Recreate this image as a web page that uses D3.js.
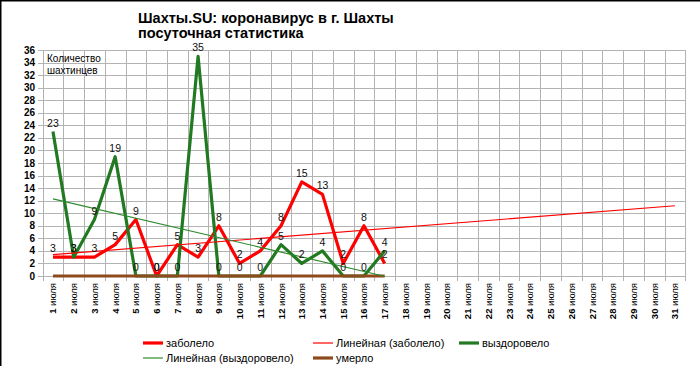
<!DOCTYPE html>
<html>
<head>
<meta charset="utf-8">
<script src="https://cdn.jsdelivr.net/npm/d3@7"></script>
<style>
  body { margin: 0; background: #fff; }
  svg { font-family: "Liberation Sans", Arial, sans-serif; }
</style>
</head>
<body>
<script>
const W = 700, H = 366;

// days of July shown on the axis
const days = d3.range(1, 32);
const dayWord = "июля";

// daily values (1..17 July)
const sick = [3, 3, 3, 5, 9, 0, 5, 3, 8, 2, 4, 8, 15, 13, 2, 8, 2];
const recovered = [23, 3, 9, 19, 0, 0, 0, 35, 0, 0, 0, 5, 2, 4, 0, 0, 4];
const died = [0, 0, 0, 0, 0, 0, 0, 0, 0, 0, 0, 0, 0, 0, 0, 0, 0];

const yTicks = d3.range(0, 37, 2);

const titleLines = ["Шахты.SU: коронавирус в г. Шахты", "посуточная статистика"];
const yTitle = ["Количество", "шахтинцев"];

const red = "#ff0000", green = "#217a21", brown = "#8e4a1c", grid = "#b3b3b3";

const svg = d3.select("body").append("svg")
  .attr("width", W).attr("height", H);

svg.append("rect").attr("x", 0.75).attr("y", 0.75)
  .attr("width", W + 10).attr("height", H + 10)
  .attr("fill", "#fff").attr("stroke", "#000").attr("stroke-width", 1.5);

const x = d3.scaleBand().domain(days).range([42.6, 685.3]).padding(0);
const xc = d => x(d) + x.bandwidth() / 2;
const y = d3.scaleLinear().domain([0, 36]).range([276, 50]);

// horizontal gridlines + y labels
const gy = svg.append("g");
gy.selectAll("line").data(yTicks).enter().append("line")
  .attr("x1", 38).attr("x2", x.range()[1])
  .attr("y1", d => Math.round(y(d)) + 0.5).attr("y2", d => Math.round(y(d)) + 0.5)
  .attr("stroke", grid).attr("stroke-width", 1);
gy.selectAll("text").data(yTicks).enter().append("text")
  .attr("x", 35).attr("y", d => y(d) + 3.5)
  .attr("text-anchor", "end").attr("font-size", 10).attr("font-weight", "bold")
  .text(d => d);

// vertical gridlines at category boundaries
const bounds = days.map(d => x(d)).concat([x.range()[1]]);
svg.append("g").selectAll("line").data(bounds).enter().append("line")
  .attr("x1", d => Math.round(d) + 0.5).attr("x2", d => Math.round(d) + 0.5)
  .attr("y1", y(36)).attr("y2", y(0) + 5)
  .attr("stroke", grid).attr("stroke-width", 1);

// x labels
svg.append("g").selectAll("text").data(days).enter().append("text")
  .attr("transform", d => `translate(${xc(d) + 3.5},283) rotate(-90)`)
  .attr("text-anchor", "end").attr("font-size", 9.5)
  .each(function (d) {
    const t = d3.select(this);
    t.append("tspan").attr("font-weight", "bold").text(d);
    t.append("tspan").text(" " + dayWord);
  });

// titles
svg.append("g").selectAll("text").data(titleLines).enter().append("text")
  .attr("x", 138).attr("y", (d, i) => 23 + i * 15)
  .attr("font-size", 14.5).attr("font-weight", "bold").text(d => d);
svg.append("g").selectAll("text").data(yTitle).enter().append("text")
  .attr("x", 47).attr("y", (d, i) => 62 + i * 12)
  .attr("font-size", 10).text(d => d);

// linear trend from the series
function trend(vals) {
  const xs = vals.map((v, i) => i + 1);
  const mx = d3.mean(xs), my = d3.mean(vals);
  const sxy = d3.sum(xs, (xv, i) => (xv - mx) * (vals[i] - my));
  const sxx = d3.sum(xs, xv => (xv - mx) * (xv - mx));
  const b = sxy / sxx;
  return t => my + b * (t - mx);
}

const line = d3.line().x((v, i) => xc(i + 1)).y(v => y(v));

const series = [
  { vals: sick, color: red },
  { vals: recovered, color: green },
  { vals: died, color: brown }
];
svg.append("g").selectAll("path").data(series).enter().append("path")
  .attr("d", s => line(s.vals))
  .attr("fill", "none").attr("stroke", s => s.color)
  .attr("stroke-width", 3.2).attr("stroke-linejoin", "round");

// trend lines
const fSick = trend(sick), fRec = trend(recovered);
const trends = [
  { f: fSick, from: 1, to: 31, color: red },
  { f: fRec, from: 1, to: sick.length, color: "#2e8b2e" }
];
svg.append("g").selectAll("line").data(trends).enter().append("line")
  .attr("x1", t => xc(t.from)).attr("y1", t => y(t.f(t.from)))
  .attr("x2", t => xc(t.to)).attr("y2", t => y(t.f(t.to)))
  .attr("stroke", t => t.color).attr("stroke-width", 1.2);

// data labels
const labs = [];
sick.forEach((v, i) => labs.push({ d: i + 1, v }));
recovered.forEach((v, i) => labs.push({ d: i + 1, v }));
svg.append("g").selectAll("text").data(labs).enter().append("text")
  .attr("x", l => xc(l.d)).attr("y", l => y(l.v) - 5)
  .attr("text-anchor", "middle").attr("font-size", 10.5).attr("fill", "#111")
  .text(l => l.v);

// legend
const legend = [
  { name: "заболело", color: red, w: 3.2, lx: 143, ly: 343 },
  { name: "Линейная (заболело)", color: red, w: 1.2, lx: 313, ly: 343 },
  { name: "выздоровело", color: green, w: 3.2, lx: 459, ly: 343 },
  { name: "Линейная (выздоровело)", color: "#2e8b2e", w: 1.2, lx: 143, ly: 358 },
  { name: "умерло", color: brown, w: 3.2, lx: 313, ly: 358 }
];
const lg = svg.append("g").selectAll("g").data(legend).enter().append("g")
  .attr("transform", l => `translate(${l.lx},${l.ly})`);
lg.append("line").attr("x1", 0).attr("x2", 20).attr("y1", 0).attr("y2", 0)
  .attr("stroke", l => l.color).attr("stroke-width", l => l.w);
lg.append("text").attr("x", 23).attr("y", 4).attr("font-size", 11).text(l => l.name);
</script>
</body>
</html>
